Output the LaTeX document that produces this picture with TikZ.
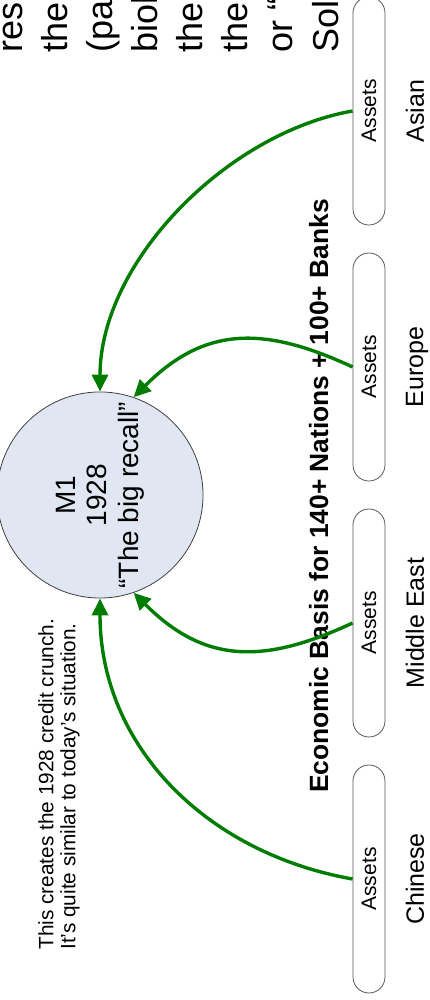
\documentclass[tikz,border=0pt]{standalone}
\usepackage{fontspec}
\setmainfont{Liberation Sans}
\usetikzlibrary{arrows.meta}
\usetikzlibrary{positioning}
\definecolor{recallgreen}{RGB}{0,125,0}
\definecolor{recallfill}{RGB}{225,230,243}

\begin{document}
\begin{tikzpicture}[x=0.5pt, y=0.5pt, rotate=90, transform shape,
    >={Triangle[length=8.5pt,width=8pt]},
    recall/.style={draw=black!75, fill=recallfill, circle, minimum size=96pt, inner sep=0pt,
        align=center, font=\fontsize{14}{15.75}\selectfont},
    assets/.style={draw=black!65, fill=white, rounded corners=8pt, minimum width=114pt,
        minimum height=16pt, inner sep=0pt, font=\fontsize{10.5}{12}\selectfont},
    region/.style={inner sep=0pt, font=\fontsize{12.5}{14}\selectfont},
    heading/.style={inner sep=0pt, font=\fontsize{13.2}{15}\selectfont\bfseries},
    note/.style={inner sep=0pt, align=left, font=\fontsize{10.4}{11}\selectfont},
    cut/.style={inner sep=0pt, font=\fontsize{18}{22.5}\selectfont},
    flow/.style={->, draw=recallgreen, line width=1.7pt}]
        \useasboundingbox (0,0) rectangle (1000,429);

        % Clipped text of the page
        \foreach \frag [count=\i] in {{resp}, {ther}, {(pa}, {biol}, {the}, {the}, {or “}, {Sol}}
            \node[cut, anchor=base west] (cut\i) at (947,451-45*\i) {\frag};

        % Money supply
        \node[recall] (M1) at (505,329) {M1\\1928\\“The big recall”};
        \node[note, anchor=west] (crunch) at (50,370) {This creates the 1928 credit crunch.\\It's quite similar to today's situation.};
        \node[heading, anchor=base] (basis) at (504,101) {Economic Basis for 140+ Nations + 100+ Banks};

        % Assets of the regions
        \foreach \name [count=\i] in {Chinese, Middle East, Europe, Asian} {
            \node[assets] (A\i) at (256*\i-135,60) {Assets};
            \node[region, below=10pt of A\i] (R\i) {\name};
        }

        % Recalls
        \draw[flow] (A1.north) to[out=80, in=180] (M1.west);
        \draw[flow] (A2.north) to[out=115, in=-135, looseness=1.15] (M1.-161);
        \draw[flow] (A3.north) to[out=65, in=-45, looseness=1.15] (M1.-19);
        \draw[flow] (A4.north) to[out=100, in=0, looseness=0.87] (M1.east);
\end{tikzpicture}
\end{document}
